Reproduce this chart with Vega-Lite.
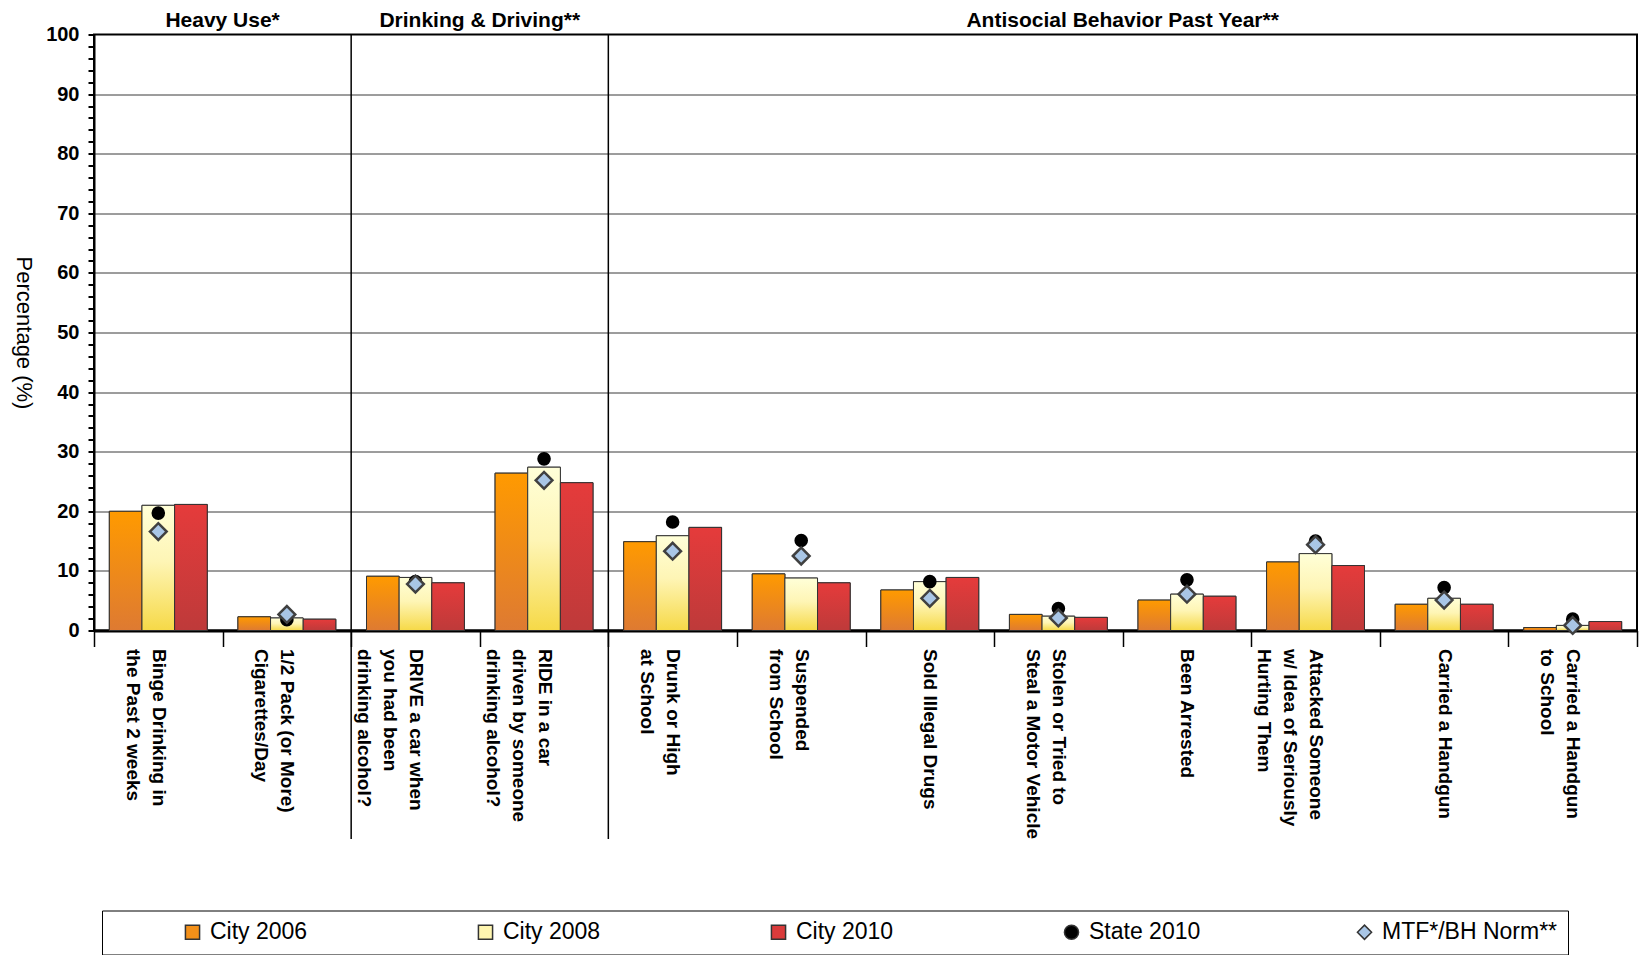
{
  "$schema": "https://vega.github.io/schema/vega-lite/v6.json",
  "width": 1543,
  "height": 596,
  "autosize": {"type": "none"},
  "padding": {"left": 94, "top": 34.5, "right": 3, "bottom": 324.5},
  "background": "white",
  "datasets": {
    "main": [
      {"c": "Binge Drinking in|the Past 2 weeks", "s": "City 2006", "v": 20.0},
      {"c": "Binge Drinking in|the Past 2 weeks", "s": "City 2008", "v": 21.0},
      {"c": "Binge Drinking in|the Past 2 weeks", "s": "City 2010", "v": 21.15},
      {"c": "Binge Drinking in|the Past 2 weeks", "s": "State 2010", "v": 19.7},
      {"c": "Binge Drinking in|the Past 2 weeks", "s": "MTF*/BH Norm**", "v": 16.6},
      {"c": "1/2 Pack (or More)|Cigarettes/Day", "s": "City 2006", "v": 2.3},
      {"c": "1/2 Pack (or More)|Cigarettes/Day", "s": "City 2008", "v": 2.1},
      {"c": "1/2 Pack (or More)|Cigarettes/Day", "s": "City 2010", "v": 1.9},
      {"c": "1/2 Pack (or More)|Cigarettes/Day", "s": "State 2010", "v": 1.8},
      {"c": "1/2 Pack (or More)|Cigarettes/Day", "s": "MTF*/BH Norm**", "v": 2.7},
      {"c": "DRIVE a car when|you had been|drinking alcohol?", "s": "City 2006", "v": 9.1},
      {"c": "DRIVE a car when|you had been|drinking alcohol?", "s": "City 2008", "v": 8.9},
      {"c": "DRIVE a car when|you had been|drinking alcohol?", "s": "City 2010", "v": 8.0},
      {"c": "DRIVE a car when|you had been|drinking alcohol?", "s": "State 2010", "v": 8.2},
      {"c": "DRIVE a car when|you had been|drinking alcohol?", "s": "MTF*/BH Norm**", "v": 7.8},
      {"c": "RIDE in a car|driven by someone|drinking alcohol?", "s": "City 2006", "v": 26.4},
      {"c": "RIDE in a car|driven by someone|drinking alcohol?", "s": "City 2008", "v": 27.4},
      {"c": "RIDE in a car|driven by someone|drinking alcohol?", "s": "City 2010", "v": 24.8},
      {"c": "RIDE in a car|driven by someone|drinking alcohol?", "s": "State 2010", "v": 28.8},
      {"c": "RIDE in a car|driven by someone|drinking alcohol?", "s": "MTF*/BH Norm**", "v": 25.2},
      {"c": "Drunk or High|at School", "s": "City 2006", "v": 14.9},
      {"c": "Drunk or High|at School", "s": "City 2008", "v": 15.9},
      {"c": "Drunk or High|at School", "s": "City 2010", "v": 17.3},
      {"c": "Drunk or High|at School", "s": "State 2010", "v": 18.2},
      {"c": "Drunk or High|at School", "s": "MTF*/BH Norm**", "v": 13.3},
      {"c": "Suspended|from School", "s": "City 2006", "v": 9.5},
      {"c": "Suspended|from School", "s": "City 2008", "v": 8.8},
      {"c": "Suspended|from School", "s": "City 2010", "v": 8.0},
      {"c": "Suspended|from School", "s": "State 2010", "v": 15.1},
      {"c": "Suspended|from School", "s": "MTF*/BH Norm**", "v": 12.5},
      {"c": "Sold Illegal Drugs", "s": "City 2006", "v": 6.8},
      {"c": "Sold Illegal Drugs", "s": "City 2008", "v": 8.2},
      {"c": "Sold Illegal Drugs", "s": "City 2010", "v": 8.9},
      {"c": "Sold Illegal Drugs", "s": "State 2010", "v": 8.2},
      {"c": "Sold Illegal Drugs", "s": "MTF*/BH Norm**", "v": 5.4},
      {"c": "Stolen or Tried to|Steal a Motor Vehicle", "s": "City 2006", "v": 2.7},
      {"c": "Stolen or Tried to|Steal a Motor Vehicle", "s": "City 2008", "v": 2.4},
      {"c": "Stolen or Tried to|Steal a Motor Vehicle", "s": "City 2010", "v": 2.2},
      {"c": "Stolen or Tried to|Steal a Motor Vehicle", "s": "State 2010", "v": 3.7},
      {"c": "Stolen or Tried to|Steal a Motor Vehicle", "s": "MTF*/BH Norm**", "v": 2.1},
      {"c": "Been Arrested", "s": "City 2006", "v": 5.1},
      {"c": "Been Arrested", "s": "City 2008", "v": 6.1},
      {"c": "Been Arrested", "s": "City 2010", "v": 5.75},
      {"c": "Been Arrested", "s": "State 2010", "v": 8.5},
      {"c": "Been Arrested", "s": "MTF*/BH Norm**", "v": 6.1},
      {"c": "Attacked Someone|w/ Idea of Seriously|Hurting Them", "s": "City 2006", "v": 11.5},
      {"c": "Attacked Someone|w/ Idea of Seriously|Hurting Them", "s": "City 2008", "v": 12.9},
      {"c": "Attacked Someone|w/ Idea of Seriously|Hurting Them", "s": "City 2010", "v": 10.9},
      {"c": "Attacked Someone|w/ Idea of Seriously|Hurting Them", "s": "State 2010", "v": 15.0},
      {"c": "Attacked Someone|w/ Idea of Seriously|Hurting Them", "s": "MTF*/BH Norm**", "v": 14.4},
      {"c": "Carried a Handgun", "s": "City 2006", "v": 4.4},
      {"c": "Carried a Handgun", "s": "City 2008", "v": 5.4},
      {"c": "Carried a Handgun", "s": "City 2010", "v": 4.4},
      {"c": "Carried a Handgun", "s": "State 2010", "v": 7.2},
      {"c": "Carried a Handgun", "s": "MTF*/BH Norm**", "v": 5.1},
      {"c": "Carried a Handgun|to School", "s": "City 2006", "v": 0.5},
      {"c": "Carried a Handgun|to School", "s": "City 2008", "v": 0.85},
      {"c": "Carried a Handgun|to School", "s": "City 2010", "v": 1.5},
      {"c": "Carried a Handgun|to School", "s": "State 2010", "v": 1.9},
      {"c": "Carried a Handgun|to School", "s": "MTF*/BH Norm**", "v": 0.85}
    ],
    "dividers": [
      {"c": "DRIVE a car when|you had been|drinking alcohol?", "v": 100, "v2": -35},
      {"c": "Drunk or High|at School", "v": 100, "v2": -35}
    ],
    "headers": [
      {"c": "1/2 Pack (or More)|Cigarettes/Day", "t": "Heavy Use*", "v": 100},
      {"c": "RIDE in a car|driven by someone|drinking alcohol?", "t": "Drinking & Driving**", "v": 100},
      {"c": "Been Arrested", "t": "Antisocial Behavior Past Year**", "v": 100}
    ]
  },
  "layer": [
    {
      "data": {"name": "main"},
      "transform": [{"filter": {"field": "s", "oneOf": ["City 2006", "City 2008", "City 2010"]}}],
      "mark": {"type": "bar", "stroke": "#333333", "strokeWidth": 1},
      "encoding": {
        "x": {"field": "c", "type": "nominal", "title": null,
          "scale": {"domain": ["Binge Drinking in|the Past 2 weeks", "1/2 Pack (or More)|Cigarettes/Day", "DRIVE a car when|you had been|drinking alcohol?", "RIDE in a car|driven by someone|drinking alcohol?", "Drunk or High|at School", "Suspended|from School", "Sold Illegal Drugs", "Stolen or Tried to|Steal a Motor Vehicle", "Been Arrested", "Attacked Someone|w/ Idea of Seriously|Hurting Them", "Carried a Handgun", "Carried a Handgun|to School"], "paddingInner": 0, "paddingOuter": 0}},
        "xOffset": {"field": "s", "type": "nominal", "scale": {"domain": ["City 2006", "City 2008", "City 2010"], "paddingInner": 0, "paddingOuter": 0.47}},
        "y": {"field": "v", "type": "quantitative", "title": "Percentage (%)",
          "scale": {"domain": [0, 100], "nice": false},
          "axis": {
            "values": [0, 2, 4, 6, 8, 10, 12, 14, 16, 18, 20, 22, 24, 26, 28, 30, 32, 34, 36, 38, 40, 42, 44, 46, 48, 50, 52, 54, 56, 58, 60, 62, 64, 66, 68, 70, 72, 74, 76, 78, 80, 82, 84, 86, 88, 90, 92, 94, 96, 98, 100],
            "tickCount": 200,
            "format": "d",
            "labelExpr": "datum.value % 10 === 0 ? datum.label : ''",
            "gridOpacity": {"condition": {"test": "datum.value % 10 === 0 && datum.value > 0 && datum.value < 100", "value": 1}, "value": 0}
          }},
        "color": {"field": "s", "type": "nominal",
          "scale": {"domain": ["City 2006", "City 2008", "City 2010", "State 2010", "MTF*/BH Norm**"], "range": ["#F39019", "#FFF6B0", "#DA3B3B", "#000000", "#A9C6E6"]},
          "legend": {
            "orient": "none", "legendX": 8, "legendY": 876, "direction": "horizontal", "columns": 5, "gridAlign": "all",
            "columnPadding": 88, "title": " ", "titleOrient": "left", "titlePadding": 69, "titleFontSize": 10,
            "labelFontSize": 23, "labelColor": "black", "labelOffset": 6, "labelLimit": 0,
            "symbolSize": 200, "symbolStrokeColor": "#333333",
            "strokeColor": "black", "padding": 10, "fillColor": "white"
          }}
      }
    },
    {
      "data": {"name": "main"},
      "transform": [{"filter": {"field": "s", "equal": "City 2006"}}],
      "mark": {"type": "bar", "stroke": "#333333", "strokeWidth": 1,
        "fill": {"gradient": "linear", "x1": 0, "y1": 0, "x2": 0, "y2": 1, "stops": [{"offset": 0, "color": "#FF9A00"}, {"offset": 1, "color": "#DE7A32"}]}},
      "encoding": {
        "x": {"field": "c", "type": "nominal", "title": null},
        "xOffset": {"field": "s", "type": "nominal"},
        "y": {"field": "v", "type": "quantitative", "title": "Percentage (%)"}
      }
    },
    {
      "data": {"name": "main"},
      "transform": [{"filter": {"field": "s", "equal": "City 2008"}}],
      "mark": {"type": "bar", "stroke": "#333333", "strokeWidth": 1,
        "fill": {"gradient": "linear", "x1": 0, "y1": 0, "x2": 0, "y2": 1, "stops": [{"offset": 0, "color": "#FFFFD8"}, {"offset": 0.45, "color": "#FEF5B5"}, {"offset": 1, "color": "#F6D947"}]}},
      "encoding": {
        "x": {"field": "c", "type": "nominal", "title": null},
        "xOffset": {"field": "s", "type": "nominal"},
        "y": {"field": "v", "type": "quantitative", "title": "Percentage (%)"}
      }
    },
    {
      "data": {"name": "main"},
      "transform": [{"filter": {"field": "s", "equal": "City 2010"}}],
      "mark": {"type": "bar", "stroke": "#333333", "strokeWidth": 1,
        "fill": {"gradient": "linear", "x1": 0, "y1": 0, "x2": 0, "y2": 1, "stops": [{"offset": 0, "color": "#E53B3B"}, {"offset": 1, "color": "#BE3A3A"}]}},
      "encoding": {
        "x": {"field": "c", "type": "nominal", "title": null},
        "xOffset": {"field": "s", "type": "nominal"},
        "y": {"field": "v", "type": "quantitative", "title": "Percentage (%)"}
      }
    },
    {
      "data": {"name": "main"},
      "transform": [{"filter": {"field": "s", "equal": "State 2010"}}],
      "mark": {"type": "point", "filled": true, "opacity": 1, "size": 185, "strokeWidth": 0},
      "encoding": {
        "x": {"field": "c", "type": "nominal", "title": null},
        "y": {"field": "v", "type": "quantitative", "title": "Percentage (%)"},
        "color": {"field": "s", "type": "nominal"},
        "shape": {"field": "s", "type": "nominal",
          "scale": {"domain": ["City 2006", "City 2008", "City 2010", "State 2010", "MTF*/BH Norm**"], "range": ["square", "square", "square", "circle", "diamond"]}}
      }
    },
    {
      "data": {"name": "main"},
      "transform": [{"filter": {"field": "s", "equal": "MTF*/BH Norm**"}}],
      "mark": {"type": "point", "filled": true, "opacity": 1, "size": 280, "stroke": "#404040", "strokeWidth": 2.5},
      "encoding": {
        "x": {"field": "c", "type": "nominal", "title": null},
        "y": {"field": "v", "type": "quantitative", "title": "Percentage (%)"},
        "color": {"field": "s", "type": "nominal"},
        "shape": {"field": "s", "type": "nominal"}
      }
    },
    {
      "data": {"name": "dividers"},
      "mark": {"type": "rule", "stroke": "black", "strokeWidth": 1.5},
      "encoding": {
        "x": {"field": "c", "type": "nominal", "bandPosition": 0, "title": null},
        "y": {"field": "v", "type": "quantitative", "title": "Percentage (%)"},
        "y2": {"field": "v2"}
      }
    },
    {
      "data": {"name": "headers"},
      "mark": {"type": "text", "fontSize": 21, "fontWeight": "bold", "color": "black", "baseline": "middle", "align": "center", "dy": -14},
      "encoding": {
        "x": {"field": "c", "type": "nominal", "bandPosition": 0, "title": null},
        "y": {"field": "v", "type": "quantitative", "title": "Percentage (%)"},
        "text": {"field": "t"}
      }
    }
  ],
  "config": {
    "font": "Liberation Sans",
    "view": {"stroke": "black", "strokeWidth": 2},
    "axisX": {
      "domainColor": "black", "domainWidth": 3, "tickBand": "extent", "tickSize": 16, "tickColor": "black", "tickWidth": 1.5,
      "labelAngle": 90, "labelAlign": "left", "labelBaseline": "middle", "labelFontSize": 19, "labelFontWeight": "bold",
      "labelColor": "black", "labelPadding": 2, "labelLineHeight": 26, "labelExpr": "split(datum.label, '|')",
      "labelLimit": 0, "labelOverlap": false, "grid": false
    },
    "axisY": {
      "domainColor": "black", "domainWidth": 2, "tickColor": "black", "tickWidth": 2, "tickSize": 6,
      "labelFontSize": 20, "labelFontWeight": "bold", "labelColor": "black", "labelPadding": 9, "labelOverlap": false,
      "grid": true, "gridColor": "#3a3a3a", "gridWidth": 1,
      "titleAngle": 90, "titleX": -71, "titleY": 298, "titleFontSize": 22, "titleFontWeight": "normal", "titleColor": "black",
      "titleAlign": "center", "titleBaseline": "middle"
    }
  }
}
